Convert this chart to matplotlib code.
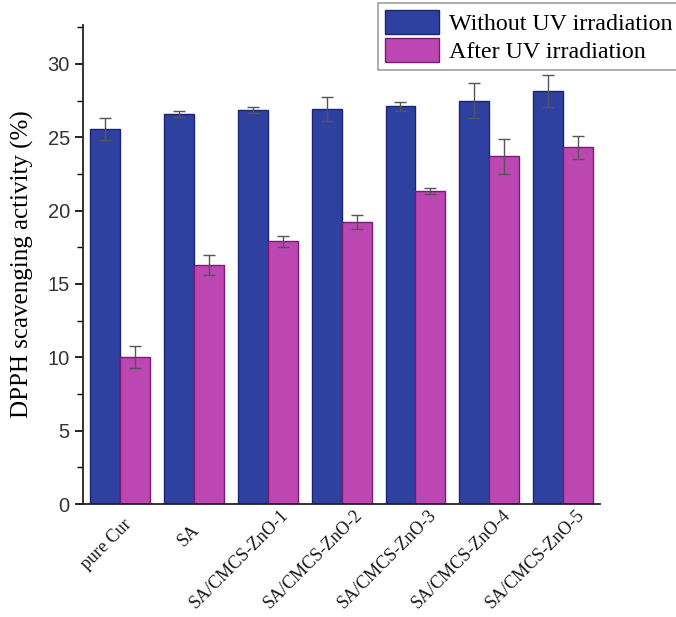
import numpy as np
import matplotlib
matplotlib.use("Agg")
import matplotlib.pyplot as plt
import matplotlib.transforms as mtransforms
from matplotlib.font_manager import FontProperties
from matplotlib.ticker import MultipleLocator

categories = ["pure Cur", "SA", "SA/CMCS-ZnO-1", "SA/CMCS-ZnO-2",
              "SA/CMCS-ZnO-3", "SA/CMCS-ZnO-4", "SA/CMCS-ZnO-5"]
without_uv = [25.55, 26.6, 26.85, 26.95, 27.1, 27.5, 28.15]
without_uv_err = [0.75, 0.2, 0.23, 0.82, 0.3, 1.2, 1.1]
after_uv = [10.05, 16.3, 17.9, 19.25, 21.35, 23.7, 24.3]
after_uv_err = [0.75, 0.7, 0.35, 0.48, 0.2, 1.2, 0.75]
series_labels = ["Without UV irradiation", "After UV irradiation"]

serif = ["Liberation Serif", "DejaVu Serif"]
sans = ["Liberation Sans", "DejaVu Sans"]

fig = plt.figure(figsize=(6.76, 6.17), dpi=100)
ax = fig.add_axes([0.1228, 0.1831, 0.765, 0.7764])

x = np.arange(len(categories))
w = 0.405
blue, blue_edge = "#2F41A0", "#1B2470"
pink, pink_edge = "#BD47B2", "#7A1A72"
err_kw = dict(ecolor="#555555", elinewidth=1.0, capsize=4, capthick=1.0)

b1 = ax.bar(x - w / 2, without_uv, w, yerr=without_uv_err, color=blue,
            edgecolor=blue_edge, linewidth=1.0, error_kw=err_kw,
            label=series_labels[0])
b2 = ax.bar(x + w / 2, after_uv, w, yerr=after_uv_err, color=pink,
            edgecolor=pink_edge, linewidth=1.0, error_kw=err_kw,
            label=series_labels[1])

ax.set_xlim(-0.5, 6.5)
ax.set_ylim(0, 32.65)
ax.yaxis.set_major_locator(MultipleLocator(5))
ax.yaxis.set_minor_locator(MultipleLocator(2.5))
ax.tick_params(axis="y", which="major", direction="out", length=6, width=1.2)
ax.tick_params(axis="y", which="minor", direction="out", length=4, width=1.0)
ax.tick_params(axis="x", length=0)

for sp in ["top", "right"]:
    ax.spines[sp].set_visible(False)
for sp in ["left", "bottom"]:
    ax.spines[sp].set_linewidth(1.3)
    ax.spines[sp].set_color("#222222")

ax.set_xticks(x)
ax.set_xticklabels([""] * len(categories))

# Category labels at 45 degrees; each label is pivoted about a point just
# below its tick, with about a fifth of its length to the right of the pivot.
xfont = FontProperties(family=serif, size=13)
renderer = fig.canvas.get_renderer()
dpi = fig.dpi
for xi, name in zip(x, categories):
    L, _, _ = renderer.get_text_width_height_descent(name, xfont, ismath=False)
    along = 0.2 * L * np.cos(np.pi / 4)
    dx = along / dpi
    dy = (-27 + along) / dpi
    tr = ax.get_xaxis_transform() + mtransforms.ScaledTranslation(
        dx, dy, fig.dpi_scale_trans)
    ax.text(xi, 0, name, transform=tr, rotation=45, rotation_mode="anchor",
            ha="right", va="center", fontproperties=xfont, color="#1a1a1a",
            clip_on=False)

for lbl in ax.get_yticklabels():
    lbl.set_family(sans)
    lbl.set_fontsize(14.5)
    lbl.set_color("#333333")

ax.set_ylabel("DPPH scavenging activity (%)", family=serif, fontsize=18,
              labelpad=10)

leg = fig.legend(handles=[b1, b2], labels=series_labels, loc="upper left",
                 bbox_to_anchor=(378 / 676, 1 - 3 / 617),
                 prop={"family": serif, "size": 17.3}, frameon=True,
                 fancybox=False, edgecolor="#888888", handlelength=2.25,
                 handleheight=1.15, labelspacing=0.12, borderpad=0.3,
                 handletextpad=0.4, borderaxespad=0)
leg.get_frame().set_linewidth(1.2)

fig.savefig("out.png", dpi=100)
